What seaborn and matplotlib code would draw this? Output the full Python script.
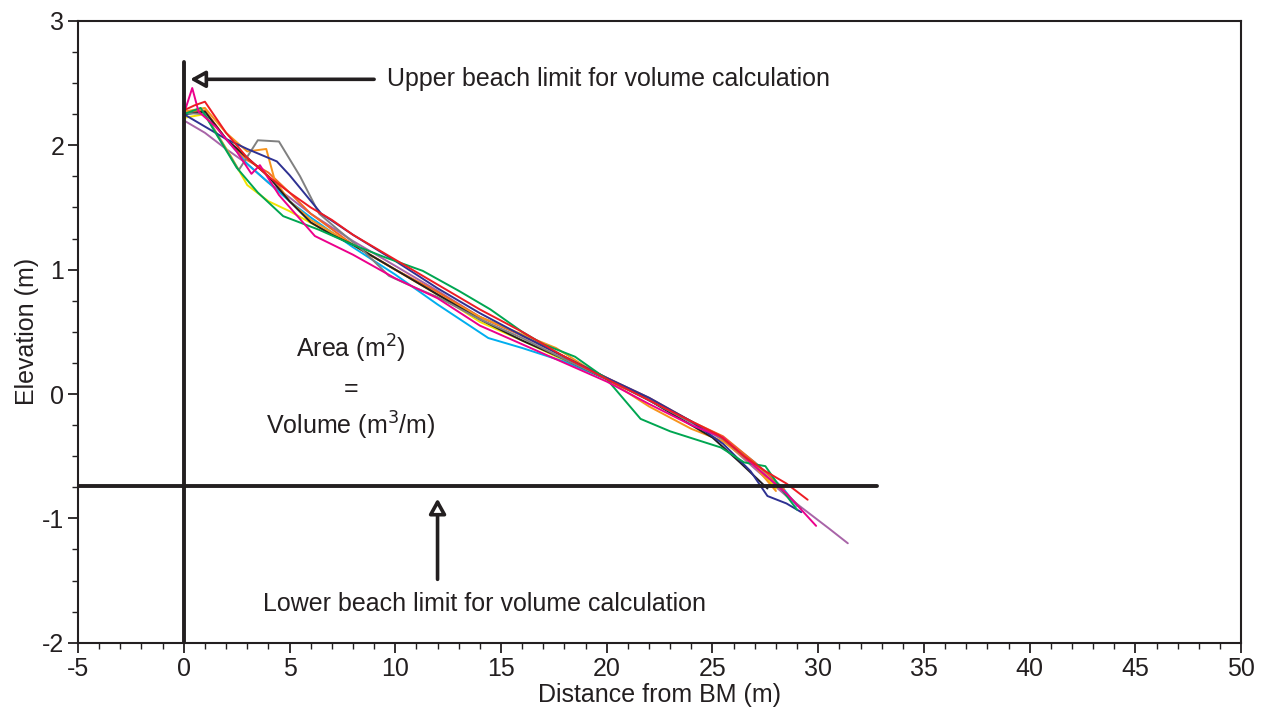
import numpy as np
import pandas as pd
import matplotlib
matplotlib.use("Agg")
import matplotlib.pyplot as plt
from matplotlib.ticker import MultipleLocator
import seaborn as sns

# beach profiles, distance from BM (m) and elevation (m)
magenta_x = [0, 0.4, 0.7, 1.5, 2.5, 3.2, 3.6, 4.5, 6.2, 8, 10, 12, 14, 16, 18, 20, 22, 24, 25.5, 27, 28.5, 29.9]
magenta_y = [2.25, 2.46, 2.27, 2.15, 1.95, 1.77, 1.84, 1.6, 1.27, 1.12, 0.93, 0.77, 0.55, 0.4, 0.25, 0.1, -0.08, -0.25, -0.35, -0.58, -0.8, -1.06]

red_x = [0, 0.5, 1, 2, 3, 4, 5, 6, 7, 8, 10, 12, 14, 16, 18, 20, 22, 24, 25.3, 26.5, 27.5, 28.5, 29.5]
red_y = [2.28, 2.32, 2.35, 2.1, 1.9, 1.75, 1.62, 1.5, 1.4, 1.28, 1.08, 0.88, 0.68, 0.5, 0.3, 0.12, -0.05, -0.22, -0.33, -0.5, -0.62, -0.72, -0.85]

green_x = [0, 0.8, 1.5, 2.5, 3.5, 4.7, 6.4, 8, 9.5, 11.3, 13, 14.5, 16, 17, 18.5, 20, 21.6, 23, 25.4, 26.5, 27.5, 28.2, 29]
green_y = [2.25, 2.3, 2.1, 1.82, 1.62, 1.43, 1.32, 1.2, 1.1, 0.99, 0.83, 0.68, 0.5, 0.4, 0.3, 0.12, -0.2, -0.3, -0.43, -0.55, -0.58, -0.75, -0.93]

cyan_x = [0, 1, 2, 3, 4, 5, 6, 7, 8, 10, 12, 14.4, 16, 18, 20, 22, 24, 25.5, 27, 28.3, 29]
cyan_y = [2.25, 2.27, 2.05, 1.85, 1.7, 1.55, 1.42, 1.3, 1.18, 0.96, 0.72, 0.45, 0.37, 0.26, 0.12, -0.05, -0.22, -0.35, -0.55, -0.75, -0.9]

yellow_x = [0, 1, 2.2, 3, 4, 5, 6.5, 8, 10, 12, 14, 16, 18, 20, 22, 24, 25.5, 27, 28]
yellow_y = [2.22, 2.25, 1.92, 1.68, 1.55, 1.47, 1.33, 1.2, 1.0, 0.8, 0.58, 0.43, 0.27, 0.12, -0.05, -0.22, -0.35, -0.56, -0.76]

orange_x = [0, 1, 2, 3, 3.9, 4.3, 5, 6, 7, 8, 10, 12, 14, 16, 17.6, 19, 20, 22, 24, 25.5, 27, 28]
orange_y = [2.27, 2.3, 2.1, 1.95, 1.97, 1.72, 1.55, 1.4, 1.3, 1.2, 1.0, 0.8, 0.62, 0.48, 0.37, 0.22, 0.12, -0.1, -0.28, -0.38, -0.58, -0.78]

darkorange_x = [0, 1, 2, 3, 4, 5, 6, 8, 10, 12, 14, 16, 18, 20, 22, 24, 25.5, 27, 28.4]
darkorange_y = [2.27, 2.28, 2.05, 1.88, 1.78, 1.62, 1.45, 1.2, 1.0, 0.82, 0.62, 0.47, 0.3, 0.13, -0.03, -0.22, -0.34, -0.55, -0.77]

black_x = [0, 1, 2, 3, 4, 5, 6, 7, 8, 10, 12, 14, 16, 18, 20, 21.5, 23, 25, 26.3, 27.6]
black_y = [2.25, 2.27, 2.05, 1.9, 1.75, 1.55, 1.38, 1.28, 1.2, 1.0, 0.8, 0.6, 0.43, 0.28, 0.12, 0.0, -0.15, -0.35, -0.55, -0.76]

navy_x = [0, 1, 2, 3, 4.4, 5, 6.5, 8, 10, 12, 14, 16, 18, 20, 22, 24, 25.5, 26.8, 27.6, 28.5, 29.2]
navy_y = [2.25, 2.15, 2.05, 1.97, 1.87, 1.76, 1.45, 1.28, 1.07, 0.85, 0.65, 0.47, 0.3, 0.13, -0.03, -0.22, -0.4, -0.62, -0.82, -0.88, -0.95]

gray_x = [0, 1, 2.6, 3.5, 4.5, 5.5, 6.4, 7.3, 8.5, 9.7, 11, 12, 14, 16, 18, 20, 22, 24, 25.5, 27, 28.5, 29.2]
gray_y = [2.26, 2.25, 1.8, 2.04, 2.03, 1.75, 1.45, 1.32, 1.15, 0.95, 0.85, 0.78, 0.6, 0.45, 0.28, 0.12, -0.05, -0.23, -0.36, -0.58, -0.8, -0.92]

purple_x = [0, 1, 2, 3, 4, 5, 6, 8, 10, 12, 14, 16, 18, 20, 22, 24, 25.5, 27, 28.5, 29.5, 30.5, 31.4]
purple_y = [2.2, 2.1, 1.97, 1.85, 1.7, 1.58, 1.45, 1.23, 1.03, 0.83, 0.62, 0.47, 0.3, 0.13, -0.05, -0.22, -0.37, -0.6, -0.82, -0.95, -1.08, -1.2]

profiles = {
    "purple": (purple_x, purple_y, "#A864A8"),
    "yellow": (yellow_x, yellow_y, "#F2E200"),
    "cyan": (cyan_x, cyan_y, "#00AEEF"),
    "darkorange": (darkorange_x, darkorange_y, "#F26522"),
    "orange": (orange_x, orange_y, "#F7941D"),
    "black": (black_x, black_y, "#231F20"),
    "gray": (gray_x, gray_y, "#808080"),
    "navy": (navy_x, navy_y, "#2E3192"),
    "green": (green_x, green_y, "#00A651"),
    "magenta": (magenta_x, magenta_y, "#EC008C"),
    "red": (red_x, red_y, "#ED1C24"),
}

rows = []
for name, (xs, ys, c) in profiles.items():
    for i in range(len(xs)):
        rows.append({"survey": name, "order": i, "dist": xs[i], "elev": ys[i]})
df = pd.DataFrame(rows)
palette = {name: v[2] for name, v in profiles.items()}

sns.set_style("white")
plt.rcParams['font.family'] = ['Liberation Sans', 'DejaVu Sans']
plt.rcParams['axes.unicode_minus'] = False

fig = plt.figure(figsize=(12.73, 7.19), dpi=100)
ax = fig.add_axes([0.0613, 0.106, 0.9137, 0.865])

sns.lineplot(data=df, x="dist", y="elev", hue="survey", units="survey", estimator=None,
             sort=False, palette=palette, linewidth=1.4, legend=False, ax=ax)

# volume limits
ax.plot([0, 0], [-2, 2.67], color="#231F20", lw=2.8, zorder=5)
ax.plot([-5, 32.8], [-0.74, -0.74], color="#231F20", lw=2.8, zorder=5)

arrow = dict(arrowstyle="-|>,head_length=0.9,head_width=0.5", fc="white", ec="#231F20", lw=2.6,
             shrinkA=0, shrinkB=0)
ax.annotate("", xy=(0.3, 2.53), xytext=(9.0, 2.53), arrowprops=arrow, zorder=6)
ax.annotate("", xy=(12.0, -0.84), xytext=(12.0, -1.49), arrowprops=arrow, zorder=6)

fs = 18
ax.text(9.6, 2.53, "Upper beach limit for volume calculation", fontsize=fs, va="center", ha="left", color="#231F20")
ax.text(14.2, -1.69, "Lower beach limit for volume calculation", fontsize=fs, va="center", ha="center", color="#231F20")
ax.text(7.9, 0.36, "Area (m$^2$)", fontsize=fs, ha="center", va="center", color="#231F20")
ax.text(7.9, 0.04, "=", fontsize=fs, ha="center", va="center", color="#231F20")
ax.text(7.9, -0.26, "Volume (m$^3$/m)", fontsize=fs, ha="center", va="center", color="#231F20")

ax.set_xlim(-5, 50)
ax.set_ylim(-2, 3)
ax.xaxis.set_major_locator(MultipleLocator(5))
ax.xaxis.set_minor_locator(MultipleLocator(1))
ax.yaxis.set_major_locator(MultipleLocator(1))
ax.yaxis.set_minor_locator(MultipleLocator(0.25))
ax.tick_params(which="both", direction="out", left=True, bottom=True, top=False, right=False,
               color="#231F20", labelsize=fs, labelcolor="#231F20")
ax.tick_params(which="major", length=7, width=1.3, pad=3)
ax.tick_params(which="minor", length=4, width=1.0)
for s in ax.spines.values():
    s.set_color("#231F20")
    s.set_linewidth(1.5)

ax.set_xlabel("Distance from BM (m)", fontsize=fs, color="#231F20", labelpad=2)
ax.set_ylabel("Elevation (m)", fontsize=fs, color="#231F20", labelpad=2)

fig.savefig("out.png", dpi=100)
